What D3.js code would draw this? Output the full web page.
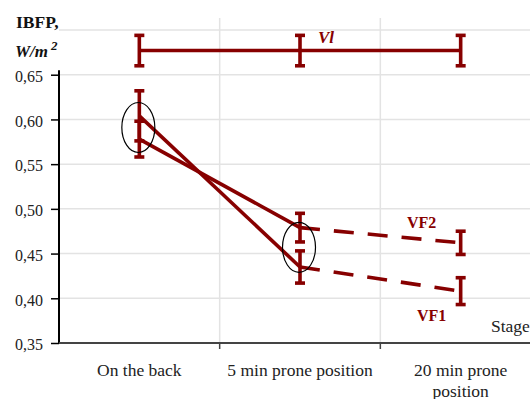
<!DOCTYPE html>
<html>
<head>
<meta charset="utf-8">
<script src="https://cdn.jsdelivr.net/npm/d3@7"></script>
<style>
  body { margin: 0; background: #fff; }
</style>
</head>
<body>
<div id="chart"></div>
<script>
// Chart data
const stages = ['On the back', '5 min prone position', '20 min prone position'];
const yTicks = [0.35, 0.40, 0.45, 0.50, 0.55, 0.60, 0.65];
const gridValues = [0.40, 0.45, 0.50, 0.55, 0.60, 0.65, 0.70];

const vlValues = [0.677, 0.677, 0.677];
const vlErrors = [0.017, 0.017, 0.017];

const vf1Values = [0.604, 0.435, 0.408];
const vf1Errors = [0.028, 0.018, 0.015];

const vf2Values = [0.578, 0.479, 0.462];
const vf2Errors = [0.020, 0.016, 0.013];

const width = 530;
const height = 399;
const red = '#870000';
const serif = "'Liberation Serif'";

const svg = d3.select('#chart')
    .append('svg')
    .attr('width', width)
    .attr('height', height);

// Scales
const x = d3.scaleBand()
    .domain(stages)
    .range([59, 541]);

const y = d3.scaleLinear()
    .domain([0.35, 0.70])
    .range([343, 30]);

const cx = d => x(d) + x.bandwidth() / 2;

// Gridlines
svg.append('g')
    .selectAll('line')
    .data(gridValues)
    .enter()
    .append('line')
    .attr('x1', 59)
    .attr('x2', width)
    .attr('y1', d => y(d))
    .attr('y2', d => y(d))
    .attr('stroke', '#e3e3e3')
    .attr('stroke-width', 1.5);

svg.append('g')
    .selectAll('line')
    .data(stages.slice(1))
    .enter()
    .append('line')
    .attr('x1', d => x(d))
    .attr('x2', d => x(d))
    .attr('y1', 18)
    .attr('y2', y(0.35))
    .attr('stroke', '#e3e3e3')
    .attr('stroke-width', 1.5);

// Y axis
const yAxis = d3.axisLeft(y)
    .tickValues(yTicks)
    .tickFormat(d => d3.format('.2f')(d).replace('.', ','))
    .tickSize(8)
    .tickPadding(8);

const yG = svg.append('g')
    .attr('transform', 'translate(59,0)')
    .call(yAxis);
yG.select('.domain').attr('stroke', '#000').attr('stroke-width', 2)
    .attr('d', `M0,${y(0.655)}V${y(0.35)}`);
yG.selectAll('.tick line').attr('stroke', '#000').attr('stroke-width', 1.5);
yG.selectAll('.tick text')
    .attr('fill', '#222')
    .attr('font-family', serif)
    .attr('font-size', 16)
    .attr('dy', '0.42em');

// X axis
const xG = svg.append('g')
    .attr('transform', `translate(0,${y(0.35)})`);
xG.append('line')
    .attr('x1', 59)
    .attr('x2', width)
    .attr('stroke', '#444')
    .attr('stroke-width', 2);
xG.selectAll('.tk')
    .data(stages.slice(1))
    .enter()
    .append('line')
    .attr('x1', d => x(d))
    .attr('x2', d => x(d))
    .attr('y1', 0)
    .attr('y2', 6)
    .attr('stroke', '#444')
    .attr('stroke-width', 1.5);

const xLabels = [['On the back'], ['5 min prone position'], ['20 min prone', 'position']];
stages.forEach((s, i) => {
    const t = svg.append('text')
        .attr('x', cx(s))
        .attr('y', 375.5)
        .attr('text-anchor', 'middle')
        .attr('fill', '#222')
        .attr('font-family', serif)
        .attr('font-size', 17.5);
    xLabels[i].forEach((line, j) => {
        t.append('tspan')
            .attr('x', cx(s))
            .attr('dy', j === 0 ? 0 : 21)
            .text(line);
    });
});

svg.append('text')
    .attr('x', 491)
    .attr('y', 332)
    .attr('fill', '#222')
    .attr('font-family', serif)
    .attr('font-size', 17.5)
    .text('Stage');

// Y title
svg.append('text')
    .attr('x', 16)
    .attr('y', 28)
    .attr('fill', '#111')
    .attr('font-family', serif)
    .attr('font-size', 17.5)
    .attr('font-weight', 'bold')
    .text('IBFP,');
const unit = svg.append('text')
    .attr('x', 15)
    .attr('y', 57)
    .attr('fill', '#111')
    .attr('font-family', serif)
    .attr('font-size', 17)
    .attr('font-weight', 'bold')
    .attr('font-style', 'italic');
unit.append('tspan').text('W/m');
unit.append('tspan').attr('dx', 3).attr('dy', -7).attr('font-size', 13).text('2');

// Series lines
const line = d3.line()
    .x(d => cx(d.stage))
    .y(d => y(d.value));

function points(values) {
    return values.map((v, i) => ({ stage: stages[i], value: v }));
}

const series = [
    { values: vlValues, errors: vlErrors },
    { values: vf1Values, errors: vf1Errors },
    { values: vf2Values, errors: vf2Errors }
];

// Vl solid across all stages
svg.append('path')
    .attr('d', line(points(vlValues)))
    .attr('fill', 'none')
    .attr('stroke', red)
    .attr('stroke-width', 3.6);

// VF1, VF2: solid first segment, dashed second
[vf1Values, vf2Values].forEach(vals => {
    const pts = points(vals);
    svg.append('path')
        .attr('d', line(pts.slice(0, 2)))
        .attr('fill', 'none')
        .attr('stroke', red)
        .attr('stroke-width', 3.6);
    svg.append('path')
        .attr('d', line(pts.slice(1)))
        .attr('fill', 'none')
        .attr('stroke', red)
        .attr('stroke-width', 3.6)
        .attr('stroke-dasharray', '20,14');
});

// Error bars
series.forEach(s => {
    s.values.forEach((v, i) => {
        const px = cx(stages[i]);
        const g = svg.append('g')
            .attr('stroke', red)
            .attr('stroke-width', 3.6);
        g.append('line')
            .attr('x1', px).attr('x2', px)
            .attr('y1', y(v + s.errors[i])).attr('y2', y(v - s.errors[i]));
        [v + s.errors[i], v - s.errors[i]].forEach(e => {
            g.append('line')
                .attr('x1', px - 5).attr('x2', px + 5)
                .attr('y1', y(e)).attr('y2', y(e));
        });
    });
});

// Ellipses around first two stages
[0, 1].forEach(i => {
    const mid = (vf1Values[i] + vf2Values[i]) / 2;
    svg.append('ellipse')
        .attr('cx', cx(stages[i]) - 1)
        .attr('cy', y(mid))
        .attr('rx', 16.5)
        .attr('ry', 25)
        .attr('fill', 'none')
        .attr('stroke', '#000')
        .attr('stroke-width', 1.2);
});

// Series labels
svg.append('text')
    .attr('x', 318)
    .attr('y', 43)
    .attr('fill', red)
    .attr('font-family', serif)
    .attr('font-size', 17)
    .attr('font-weight', 'bold')
    .attr('font-style', 'italic')
    .text('Vl');
svg.append('text')
    .attr('x', 407)
    .attr('y', 228)
    .attr('fill', red)
    .attr('font-family', serif)
    .attr('font-size', 16)
    .attr('font-weight', 'bold')
    .text('VF2');
svg.append('text')
    .attr('x', 417)
    .attr('y', 321)
    .attr('fill', red)
    .attr('font-family', serif)
    .attr('font-size', 16)
    .attr('font-weight', 'bold')
    .text('VF1');
</script>
</body>
</html>
